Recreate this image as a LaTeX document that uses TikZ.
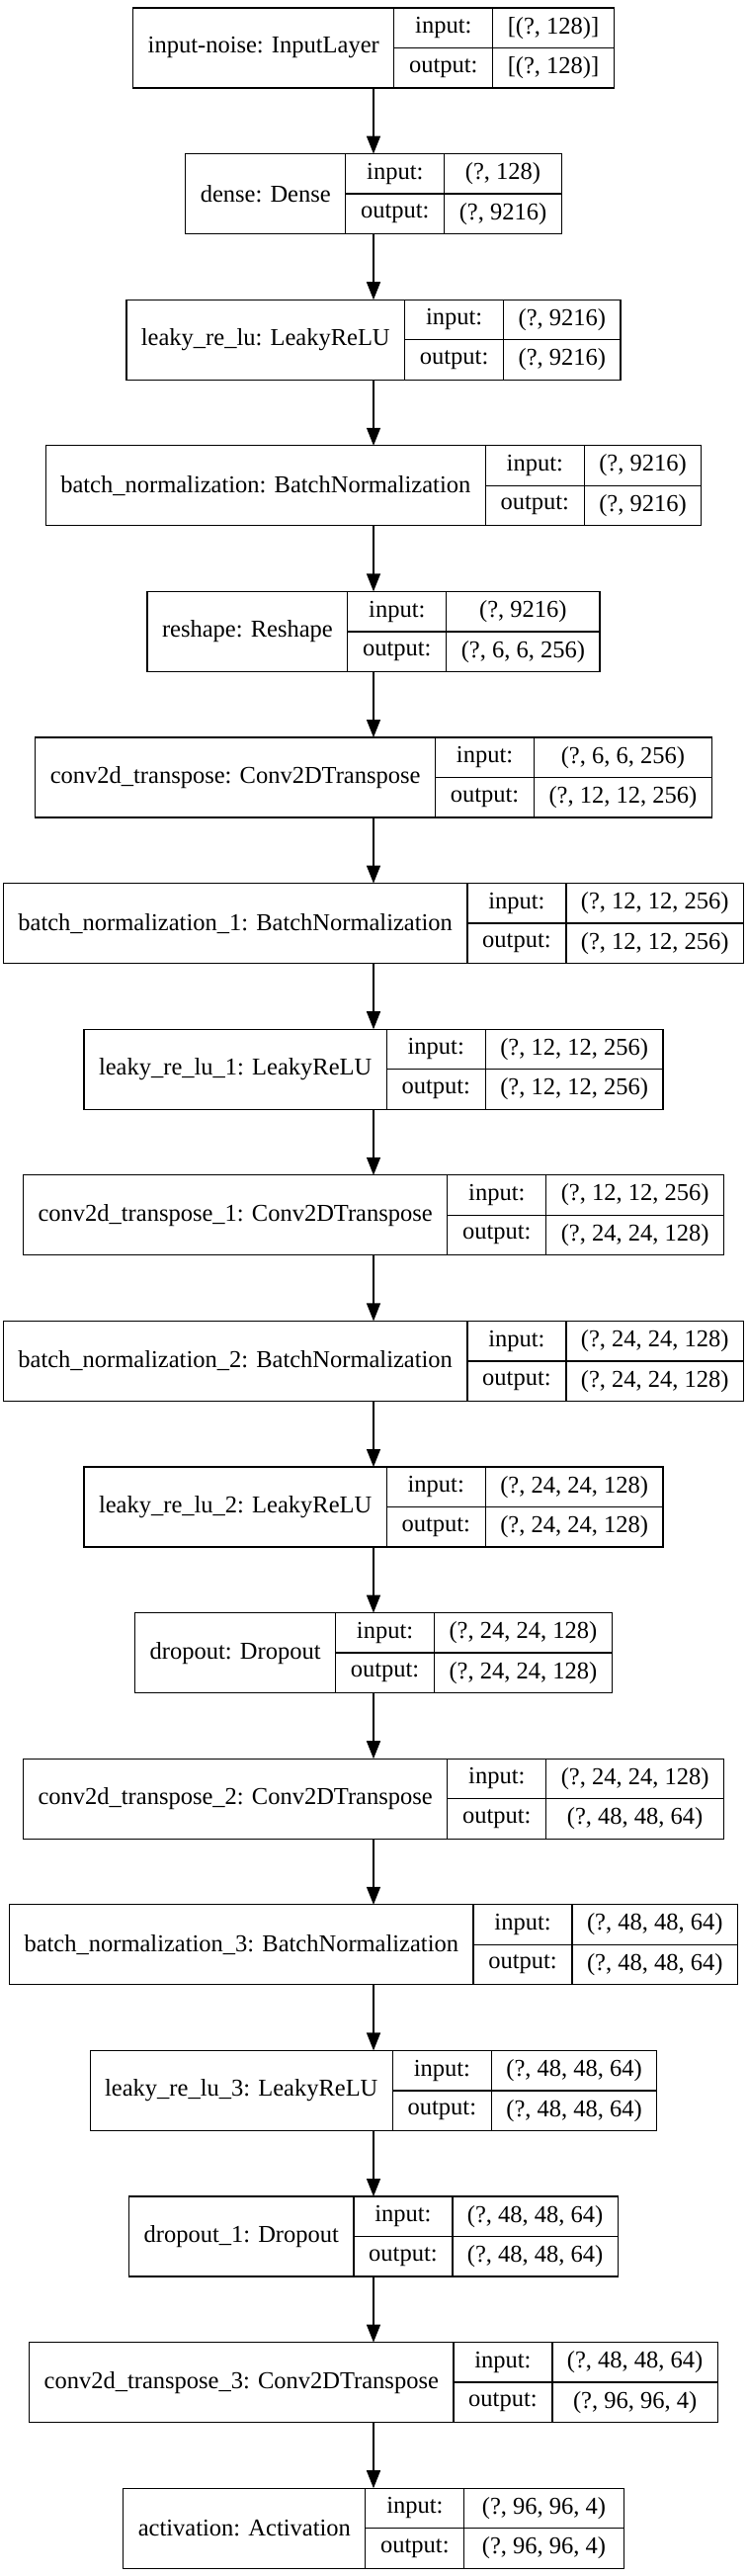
\documentclass[tikz,border=0pt]{standalone}
\usepackage{fontspec}
\setmainfont{Liberation Serif}
\usetikzlibrary{arrows.meta, positioning}

\newdimen\namewd
\newdimen\inwd
\newdimen\outwd
\newcommand\layerfont{\fontsize{24.5}{29}\selectfont}

% Layers: name / input shape / output shape
\newcommand\layerlist{
    {input-noise: InputLayer}/{[(?, 128)]}/{[(?, 128)]},
    {dense: Dense}/{(?, 128)}/{(?, 9216)},
    {leaky\_re\_lu: LeakyReLU}/{(?, 9216)}/{(?, 9216)},
    {batch\_normalization: BatchNormalization}/{(?, 9216)}/{(?, 9216)},
    {reshape: Reshape}/{(?, 9216)}/{(?, 6, 6, 256)},
    {conv2d\_transpose: Conv2DTranspose}/{(?, 6, 6, 256)}/{(?, 12, 12, 256)},
    {batch\_normalization\_1: BatchNormalization}/{(?, 12, 12, 256)}/{(?, 12, 12, 256)},
    {leaky\_re\_lu\_1: LeakyReLU}/{(?, 12, 12, 256)}/{(?, 12, 12, 256)},
    {conv2d\_transpose\_1: Conv2DTranspose}/{(?, 12, 12, 256)}/{(?, 24, 24, 128)},
    {batch\_normalization\_2: BatchNormalization}/{(?, 24, 24, 128)}/{(?, 24, 24, 128)},
    {leaky\_re\_lu\_2: LeakyReLU}/{(?, 24, 24, 128)}/{(?, 24, 24, 128)},
    {dropout: Dropout}/{(?, 24, 24, 128)}/{(?, 24, 24, 128)},
    {conv2d\_transpose\_2: Conv2DTranspose}/{(?, 24, 24, 128)}/{(?, 48, 48, 64)},
    {batch\_normalization\_3: BatchNormalization}/{(?, 48, 48, 64)}/{(?, 48, 48, 64)},
    {leaky\_re\_lu\_3: LeakyReLU}/{(?, 48, 48, 64)}/{(?, 48, 48, 64)},
    {dropout\_1: Dropout}/{(?, 48, 48, 64)}/{(?, 48, 48, 64)},
    {conv2d\_transpose\_3: Conv2DTranspose}/{(?, 48, 48, 64)}/{(?, 96, 96, 4)},
    {activation: Activation}/{(?, 96, 96, 4)}/{(?, 96, 96, 4)}
}

% column widths, measured before the picture
\AtBeginDocument{%
    \foreach \lname/\lin/\lout [count=\i] in \layerlist {%
        \settowidth{\namewd}{\normalfont\layerfont \lname}%
        \settowidth{\inwd}{\normalfont\layerfont \lin}%
        \settowidth{\outwd}{\normalfont\layerfont \lout}%
        \pgfmathsetmacro\wa{\the\namewd+30}%
        \pgfmathsetmacro\wc{max(\the\inwd,\the\outwd)+30}%
        \expandafter\xdef\csname layerwa\i\endcsname{\wa}%
        \expandafter\xdef\csname layerwc\i\endcsname{\wc}%
    }%
}

\begin{document}
\begin{tikzpicture}[
    x=1pt, y=-1pt,
    cell/.style={rectangle, draw, line width=1.3pt, inner sep=0pt, outer sep=0pt, minimum height=40.5pt, font=\layerfont, anchor=north west},
    namecell/.style={cell, minimum height=81pt},
    arrow/.style={-{Triangle[length=18pt, width=14pt]}, line width=1.3pt}
]
    \useasboundingbox (0,0) rectangle (756,2606);

    \foreach \lname/\lin/\lout [count=\i] in \layerlist {
        \edef\wa{\csname layerwa\i\endcsname}
        \edef\wc{\csname layerwc\i\endcsname}
        \pgfmathsetmacro\ytop{8+147.6*(\i-1)}
        \pgfmathsetmacro\xl{378-(\wa+100+\wc)/2}

        \node[namecell, minimum width=\wa pt] (name\i) at (\xl,\ytop) {\lname};
        \node[cell, minimum width=100pt] (inlab\i) at (name\i.north east) {input:};
        \node[cell, minimum width=100pt] (outlab\i) at (inlab\i.south west) {output:};
        \node[cell, minimum width=\wc pt] (inshape\i) at (inlab\i.north east) {\lin};
        \node[cell, minimum width=\wc pt] (outshape\i) at (inshape\i.south west) {\lout};
        \coordinate (top\i) at (378,\ytop);
        \coordinate (bot\i) at (378,\ytop+81);
    }

    % Arrows between layers
    \foreach \i [evaluate=\i as \j using int(\i+1)] in {1,...,17}
        \draw[arrow] (bot\i) -- (top\j);
\end{tikzpicture}
\end{document}
